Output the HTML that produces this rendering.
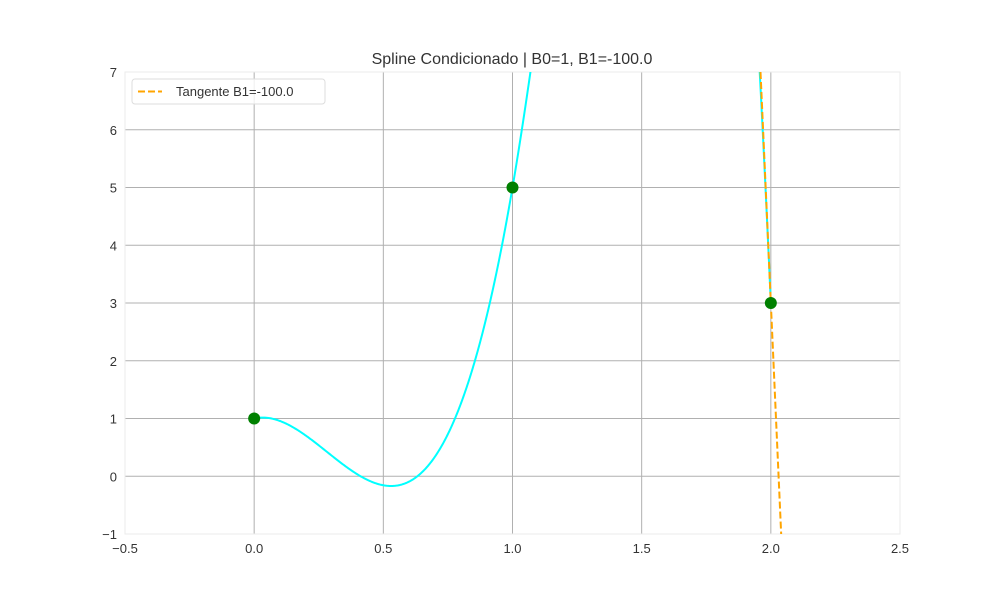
<!DOCTYPE html>
<html><head><meta charset="utf-8"><style>
html,body{margin:0;padding:0;background:#fff;width:1000px;height:600px;overflow:hidden;}
svg{display:block;}
svg text{font-family:"Liberation Sans","DejaVu Sans",sans-serif;}
</style></head><body>
<svg id="chart" width="1000" height="600" xmlns="http://www.w3.org/2000/svg">
<defs><clipPath id="clip"><rect x="125" y="72" width="775" height="462"/></clipPath></defs>
<g id="grid"></g>
<rect x="125" y="72" width="775" height="462" fill="none" stroke="#ebebeb" stroke-width="1"/>
<g id="ticks"></g>
<g clip-path="url(#clip)">
<path id="spline" fill="none" stroke="#00ffff" stroke-width="2"/>
<path id="tangent" fill="none" stroke="#ffa500" stroke-width="2" stroke-dasharray="7,3"/>
<g id="points"></g>
</g>
<text x="512" y="64" text-anchor="middle" font-size="16" fill="#333">Spline Condicionado | B0=1, B1=-100.0</text>
<g>
<rect x="132" y="79" width="193" height="25" rx="3" fill="#fff" fill-opacity="0.8" stroke="#ddd"/>
<line x1="138" y1="91.5" x2="162" y2="91.5" stroke="#ffa500" stroke-width="2" stroke-dasharray="7,3"/>
<text x="176" y="96" font-size="13" fill="#333">Tangente B1=-100.0</text>
</g>
</svg>
<script>
const knotsX=[0,1,2];
const knotsY=[1,5,3];
const B0=1;
const B1=-100.0;
const xTicks=[-0.5,0,0.5,1,1.5,2,2.5];
const yTicks=[-1,0,1,2,3,4,5,6,7];
const xs=v=>125+(v+0.5)*775/3;
const ys=v=>534-(v+1)*462/8;
const NS="http://www.w3.org/2000/svg";
function mk(t,a,p){const e=document.createElementNS(NS,t);for(const k in a)e.setAttribute(k,a[k]);p.appendChild(e);return e;}
const grid=document.getElementById('grid'),ticks=document.getElementById('ticks');
xTicks.forEach(v=>{const x=xs(v);
 if(v>-0.5&&v<2.5){const l=mk('line',{x1:x,x2:x,y1:72,y2:534,stroke:'#b0b0b0','stroke-width':1},grid);}
 const t=mk('text',{x:x,y:553,'text-anchor':'middle','font-size':13,fill:'#333'},ticks);t.textContent=v.toFixed(1).replace('-','\u2212');
 });
yTicks.forEach(v=>{const y=ys(v);
 if(v>-1&&v<7){const l=mk('line',{x1:125,x2:900,y1:y,y2:y,stroke:'#b0b0b0','stroke-width':1},grid);}
 const t=mk('text',{x:117,y:y+5,'text-anchor':'end','font-size':13,fill:'#333'},ticks);t.textContent=String(v).replace('-','\u2212');
 });
const n=knotsX.length;const h=[];for(let i=0;i<n-1;i++)h.push(knotsX[i+1]-knotsX[i]);
const A=[],r=[];for(let i=0;i<n;i++){A.push(new Array(n).fill(0));r.push(0);}
A[0][0]=2*h[0];A[0][1]=h[0];r[0]=6*((knotsY[1]-knotsY[0])/h[0]-B0);
for(let i=1;i<n-1;i++){A[i][i-1]=h[i-1];A[i][i]=2*(h[i-1]+h[i]);A[i][i+1]=h[i];
 r[i]=6*((knotsY[i+1]-knotsY[i])/h[i]-(knotsY[i]-knotsY[i-1])/h[i-1]);}
A[n-1][n-2]=h[n-2];A[n-1][n-1]=2*h[n-2];r[n-1]=6*(B1-(knotsY[n-1]-knotsY[n-2])/h[n-2]);
for(let i=0;i<n;i++){for(let j=i+1;j<n;j++){const f=A[j][i]/A[i][i];for(let k=i;k<n;k++)A[j][k]-=f*A[i][k];r[j]-=f*r[i];}}
const M=new Array(n).fill(0);for(let i=n-1;i>=0;i--){let s=r[i];for(let k=i+1;k<n;k++)s-=A[i][k]*M[k];M[i]=s/A[i][i];}
let d='',pen=false;
for(let i=0;i<n-1;i++){for(let s=0;s<=400;s++){const t=s/400,a=1-t,b=t;
 const y=a*knotsY[i]+b*knotsY[i+1]+((a*a*a-a)*M[i]+(b*b*b-b)*M[i+1])*h[i]*h[i]/6;
 const x=knotsX[i]+t*h[i];
 if(y>7.2||y<-1.2){pen=false;continue;}
 d+=(pen?'L':'M')+xs(x).toFixed(2)+','+ys(y).toFixed(2);pen=true;}}
document.getElementById('spline').setAttribute('d',d);
const xe=knotsX[n-1],ye=knotsY[n-1];
const xTop=xe+(7-ye)/B1,xBot=xe+(-1-ye)/B1;
document.getElementById('tangent').setAttribute('d','M'+xs(xTop)+','+ys(7)+'L'+xs(xBot)+','+ys(-1));
const pts=document.getElementById('points');
knotsX.forEach((x,i)=>{const c=mk('circle',{cx:xs(x),cy:ys(knotsY[i]),r:6,fill:'#008000'},pts);
 });
</script>
</body></html>
